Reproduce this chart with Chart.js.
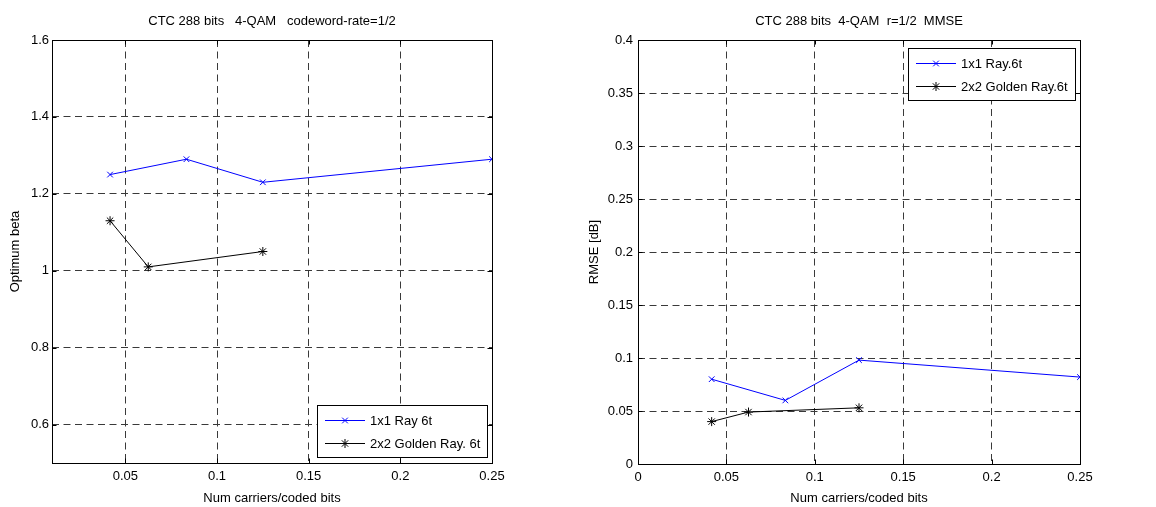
<!DOCTYPE html>
<html>
<head>
<meta charset="utf-8">
<title>CTC 288 bits 4-QAM</title>
<script src="https://cdn.jsdelivr.net/npm/chart.js@4.4.0/dist/chart.umd.min.js"></script>
<style>
    html, body { margin: 0; padding: 0; background: #fff; }
    .panel { position: absolute; top: 0; width: 578px; height: 507px; }
    #beta-panel { left: 0; }
    #rmse-panel { left: 578px; }
</style>
</head>
<body>
<div class="panel" id="beta-panel"><canvas id="beta-chart" width="578" height="507"></canvas></div>
<div class="panel" id="rmse-panel"><canvas id="rmse-chart" width="578" height="507"></canvas></div>
<script>
// Carriers per coded bit (x) for each setup
const carriers1x1 = [1 / 24, 1 / 12, 1 / 8, 1 / 4];
const carriers2x2 = [1 / 24, 1 / 16, 1 / 8];

// Left panel: optimum beta
const beta1x1 = [1.25, 1.29, 1.23, 1.29];
const beta2x2 = [1.13, 1.01, 1.05];

// Right panel: RMSE in dB
const rmse1x1 = [0.080, 0.060, 0.098, 0.082];
const rmse2x2 = [0.040, 0.049, 0.053];

// Tick values
const betaXTicks = [0.05, 0.1, 0.15, 0.2, 0.25];
const betaYTicks = [0.6, 0.8, 1, 1.2, 1.4, 1.6];
const rmseXTicks = [0, 0.05, 0.1, 0.15, 0.2, 0.25];
const rmseYTicks = [0, 0.05, 0.1, 0.15, 0.2, 0.25, 0.3, 0.35, 0.4];

const FONT = 'Arial, "Liberation Sans", Helvetica, sans-serif';
const GRID_COLOR = '#3a3a3a';
const TICK_LEN = 4.5;

function points(xs, ys) {
    return xs.map((x, i) => ({ x: x, y: ys[i] }));
}

// Solid box around the axes with small inward tick marks
const axesBox = {
    id: 'axesBox',
    beforeDatasetsDraw(chart) {
        const { ctx, chartArea: a, scales } = chart;
        ctx.save();
        ctx.strokeStyle = '#000';
        ctx.lineWidth = 1;
        ctx.setLineDash([]);
        ctx.beginPath();
        scales.x.ticks.forEach(t => {
            const px = Math.round(scales.x.getPixelForValue(t.value)) + 0.5;
            ctx.moveTo(px, a.bottom); ctx.lineTo(px, a.bottom - TICK_LEN);
            ctx.moveTo(px, a.top); ctx.lineTo(px, a.top + TICK_LEN);
        });
        scales.y.ticks.forEach(t => {
            const py = Math.round(scales.y.getPixelForValue(t.value)) + 0.5;
            ctx.moveTo(a.left, py); ctx.lineTo(a.left + TICK_LEN, py);
            ctx.moveTo(a.right, py); ctx.lineTo(a.right - TICK_LEN, py);
        });
        ctx.stroke();
        ctx.strokeRect(Math.round(a.left) + 0.5, Math.round(a.top) + 0.5,
            Math.round(a.right - a.left), Math.round(a.bottom - a.top));
        ctx.restore();
    }
};

// Title text above the plot box
const plotTitle = {
    id: 'plotTitle',
    afterDraw(chart, args, opts) {
        const { ctx, chartArea: a } = chart;
        ctx.save();
        ctx.font = '13px ' + FONT;
        ctx.fillStyle = '#000';
        ctx.textAlign = 'center';
        ctx.textBaseline = 'middle';
        ctx.fillText(opts.text, (a.left + a.right) / 2 + (opts.shift || 0), 21);
        ctx.restore();
    }
};

// Boxed legend inside the plot, anchored to a corner
const boxLegend = {
    id: 'boxLegend',
    afterDatasetsDraw(chart, args, opts) {
        const { ctx, chartArea: a } = chart;
        const sets = chart.data.datasets;
        ctx.save();
        ctx.font = '13px ' + FONT;
        const textW = Math.max(...sets.map(d => ctx.measureText(d.label).width));
        const w = Math.round(8 + 40 + 5 + textW + 7);
        const h = 52;
        const x0 = Math.round(a.right - opts.right - w);
        const y0 = opts.corner === 'bottom' ? Math.round(a.bottom - opts.offset - h) : Math.round(a.top + opts.offset);
        ctx.fillStyle = '#fff';
        ctx.fillRect(x0, y0, w, h);
        ctx.strokeStyle = '#000';
        ctx.lineWidth = 1;
        ctx.strokeRect(x0 + 0.5, y0 + 0.5, w, h);
        sets.forEach((d, i) => {
            const yy = y0 + 15 + i * 23;
            ctx.strokeStyle = d.borderColor;
            ctx.lineWidth = 1;
            ctx.beginPath();
            ctx.moveTo(x0 + 8, yy + 0.5);
            ctx.lineTo(x0 + 48, yy + 0.5);
            ctx.stroke();
            Chart.helpers.drawPoint(ctx, {
                pointStyle: d.pointStyle,
                radius: d.pointRadius,
                borderWidth: 1
            }, x0 + 28, yy + 0.5);
            ctx.fillStyle = '#000';
            ctx.textAlign = 'left';
            ctx.textBaseline = 'middle';
            ctx.fillText(d.label, x0 + 53, yy + 1);
        });
        ctx.restore();
    }
};

function series(label, xs, ys, color, style, radius) {
    return {
        label: label,
        data: points(xs, ys),
        showLine: true,
        borderColor: color,
        backgroundColor: color,
        borderWidth: 1,
        pointStyle: style,
        pointRadius: radius,
        pointBorderWidth: 1,
        pointHoverRadius: radius,
        tension: 0
    };
}

function axis(min, max, tickValues, axisSize, labelPad, title, titlePad) {
    return {
        type: 'linear',
        min: min,
        max: max,
        afterBuildTicks: s => { s.ticks = tickValues.map(v => ({ value: v })); },
        afterFit: s => {
            if (s.isHorizontal()) s.height = axisSize; else s.width = axisSize;
        },
        grid: { color: GRID_COLOR, lineWidth: 1, drawTicks: false },
        border: { display: false, dash: [7, 4.5] },
        ticks: {
            color: '#000',
            padding: labelPad,
            maxRotation: 0,
            autoSkip: false,
            font: { family: FONT, size: 13 },
            callback: v => String(+v.toFixed(3))
        },
        title: {
            display: true,
            text: title,
            color: '#000',
            font: { family: FONT, size: 13 },
            padding: titlePad
        }
    };
}

function makeChart(id, cfg) {
    return new Chart(document.getElementById(id).getContext('2d'), {
        type: 'scatter',
        data: { datasets: cfg.datasets },
        plugins: [axesBox, plotTitle, boxLegend],
        options: {
            responsive: false,
            animation: false,
            events: [],
            layout: { padding: cfg.padding },
            plugins: {
                legend: { display: false },
                tooltip: { enabled: false },
                plotTitle: { text: cfg.title },
                boxLegend: cfg.legend
            },
            scales: { x: cfg.x, y: cfg.y }
        }
    });
}

makeChart('beta-chart', {
    title: 'CTC 288 bits   4-QAM   codeword-rate=1/2',
    datasets: [
        series('1x1 Ray 6t', carriers1x1, beta1x1, '#0000ff', 'crossRot', 4),
        series('2x2 Golden Ray. 6t', carriers2x2, beta2x2, '#000000', 'star', 4.5)
    ],
    padding: { top: 40, right: 86, bottom: 0, left: 0 },
    legend: { corner: 'bottom', right: 5, offset: 6 },
    x: axis(0.01, 0.25, betaXTicks, 44, 6, 'Num carriers/coded bits', { top: 0, bottom: 1 }),
    y: axis(0.5, 1.6, betaYTicks, 52, 3, 'Optimum beta', { top: 8, bottom: 0 })
});

makeChart('rmse-chart', {
    title: 'CTC 288 bits  4-QAM  r=1/2  MMSE',
    datasets: [
        series('1x1 Ray.6t', carriers1x1, rmse1x1, '#0000ff', 'crossRot', 4),
        series('2x2 Golden Ray.6t', carriers2x2, rmse2x2, '#000000', 'star', 4.5)
    ],
    padding: { top: 40, right: 76, bottom: 0, left: 0 },
    legend: { corner: 'top', right: 5, offset: 8 },
    x: axis(0, 0.25, rmseXTicks, 43, 6, 'Num carriers/coded bits', { top: 0, bottom: 1 }),
    y: axis(0, 0.4, rmseYTicks, 60, 5, 'RMSE [dB]', { top: 9, bottom: 0 })
});
</script>
</body>
</html>
